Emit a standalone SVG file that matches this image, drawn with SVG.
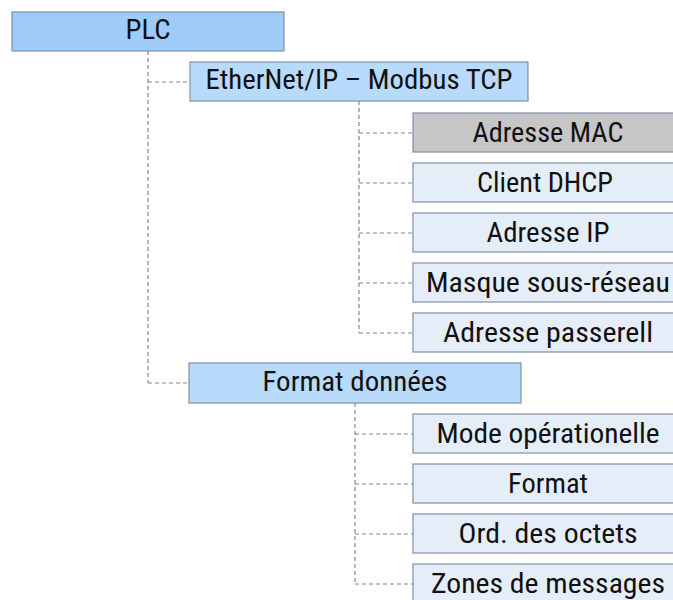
<svg xmlns="http://www.w3.org/2000/svg" width="673" height="600" viewBox="0 0 673 600">
<style>
rect{stroke:#8090a4;stroke-width:1.2}
.l0{fill:#9ecbf8}
.l1{fill:#b8dbfc}
.l2{fill:#e5edf9}
.sel{fill:#c6c6c6}
text{font-family:"Liberation Sans Narrow","Roboto Condensed","Liberation Sans",Arial,sans-serif;font-size:28px;fill:#111;text-anchor:middle}
.c line{stroke:#858585;stroke-width:1.2;stroke-dasharray:4 3;fill:none}
</style>
<rect width="673" height="600" fill="#fff" style="stroke:none"/>
<g class="c" id="connectors">
<line x1="148" y1="51" x2="148" y2="383"/>
<line x1="148" y1="82" x2="190" y2="82"/>
<line x1="148" y1="383" x2="189" y2="383"/>
<line x1="359" y1="101" x2="359" y2="333"/>
<line x1="359" y1="133" x2="413" y2="133"/>
<line x1="359" y1="183" x2="413" y2="183"/>
<line x1="359" y1="233" x2="413" y2="233"/>
<line x1="359" y1="283" x2="413" y2="283"/>
<line x1="359" y1="333" x2="413" y2="333"/>
<line x1="355" y1="403" x2="355" y2="584"/>
<line x1="355" y1="434" x2="413" y2="434"/>
<line x1="355" y1="484" x2="413" y2="484"/>
<line x1="355" y1="534" x2="413" y2="534"/>
<line x1="355" y1="584" x2="413" y2="584"/>
</g>
<g id="plc"><rect class="l0" x="12" y="12" width="272" height="39"/><text x="148" y="39" textLength="45" lengthAdjust="spacingAndGlyphs">PLC</text></g>
<g id="ethernet"><rect class="l1" x="190" y="62" width="338" height="39"/><text x="359" y="89" textLength="307" lengthAdjust="spacingAndGlyphs">EtherNet/IP – Modbus TCP</text></g>
<g id="mac"><rect class="sel" x="413" y="113" width="272" height="39"/><text x="548" y="142" textLength="151" lengthAdjust="spacingAndGlyphs">Adresse MAC</text></g>
<g id="dhcp"><rect class="l2" x="413" y="163" width="272" height="39"/><text x="545" y="192" textLength="136" lengthAdjust="spacingAndGlyphs">Client DHCP</text></g>
<g id="ip"><rect class="l2" x="413" y="213" width="272" height="39"/><text x="548" y="242" textLength="123" lengthAdjust="spacingAndGlyphs">Adresse IP</text></g>
<g id="masque"><rect class="l2" x="413" y="263" width="272" height="39"/><text x="548" y="292" textLength="244" lengthAdjust="spacingAndGlyphs">Masque sous-réseau</text></g>
<g id="passerell"><rect class="l2" x="413" y="313" width="272" height="39"/><text x="548" y="342" textLength="210" lengthAdjust="spacingAndGlyphs">Adresse passerell</text></g>
<g id="format-donnees"><rect class="l1" x="189" y="363" width="332" height="40"/><text x="355" y="391" textLength="185" lengthAdjust="spacingAndGlyphs">Format données</text></g>
<g id="mode"><rect class="l2" x="413" y="414" width="272" height="39"/><text x="548" y="443" textLength="223" lengthAdjust="spacingAndGlyphs">Mode opérationelle</text></g>
<g id="format"><rect class="l2" x="413" y="464" width="272" height="39"/><text x="548" y="493" textLength="80" lengthAdjust="spacingAndGlyphs">Format</text></g>
<g id="ord"><rect class="l2" x="413" y="514" width="272" height="39"/><text x="548" y="543" textLength="179" lengthAdjust="spacingAndGlyphs">Ord. des octets</text></g>
<g id="zones"><rect class="l2" x="413" y="564" width="272" height="45"/><text x="548" y="593" textLength="234" lengthAdjust="spacingAndGlyphs">Zones de messages</text></g>
</svg>
